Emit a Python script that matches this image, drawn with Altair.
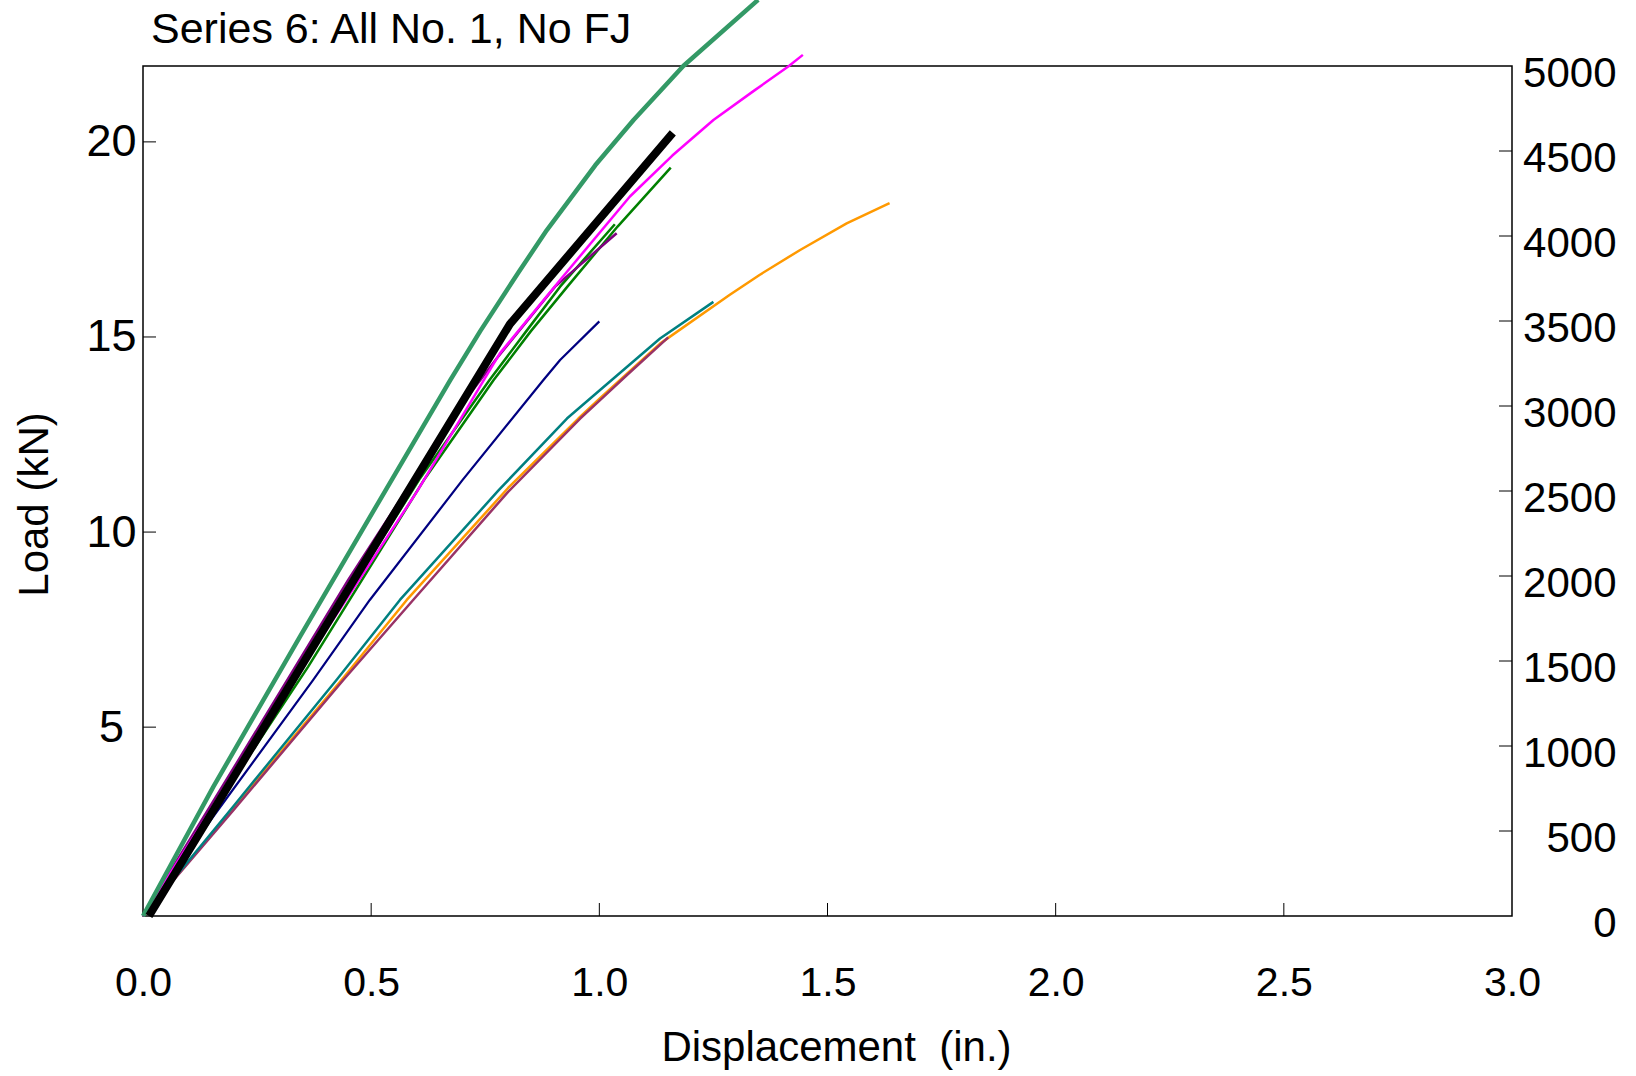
import altair as alt
import pandas as pd

# ---------------- data ----------------
title_text = ["Series 6: All No. 1, No FJ"]
x_ticks = [0.0, 0.5, 1.0, 1.5, 2.0, 2.5, 3.0]
x_minor_ticks = [0.5, 1.0, 1.5, 2.0, 2.5]
kn_ticks = [5, 10, 15, 20]
lb_ticks = [0, 500, 1000, 1500, 2000, 2500, 3000, 3500, 4000, 4500, 5000]
lb_tick_marks = [500, 1000, 1500, 2000, 2500, 3000, 3500, 4000, 4500]

# displacement (in.) / load (kN)
orange_x = [0.0, 0.20, 0.435, 0.578, 0.80, 0.954, 1.0016, 1.133, 1.286, 1.351, 1.440, 1.542, 1.636]
orange_y = [0.16, 2.95, 6.21, 8.26, 11.13, 12.91, 13.43, 14.83, 16.08, 16.59, 17.23, 17.91, 18.43]

mauve_x = [0.0, 0.20, 0.439, 0.592, 0.80, 0.958, 1.0016, 1.060, 1.151]
mauve_y = [0.16, 2.90, 6.21, 8.26, 11.03, 12.91, 13.38, 14.02, 14.99]

teal_x = [0.0, 0.20, 0.424, 0.563, 0.78, 0.929, 1.0016, 1.133, 1.250]
teal_y = [0.16, 3.00, 6.21, 8.26, 11.08, 12.91, 13.64, 14.96, 15.90]

navy_x = [0.0, 0.154, 0.373, 0.497, 0.70, 0.877, 0.914, 1.000]
navy_y = [0.16, 2.71, 6.21, 8.26, 11.33, 13.89, 14.41, 15.40]

greenA_x = [0.0, 0.362, 0.616, 0.768, 0.850, 0.930, 1.040, 1.1565]
greenA_y = [0.16, 6.55, 11.34, 13.89, 15.15, 16.29, 17.83, 19.34]

greenB_x = [0.0, 0.350, 0.605, 0.759, 0.840, 0.914, 1.034]
greenB_y = [0.16, 6.58, 11.34, 13.89, 15.15, 16.29, 17.89]

purple_x = [0.0, 0.20, 0.45, 0.70, 0.775, 0.903, 1.038]
purple_y = [0.16, 3.98, 8.78, 13.29, 14.45, 16.29, 17.66]

magenta_x = [0.0, 0.20, 0.40, 0.60, 0.782, 0.914, 1.067, 1.160, 1.250, 1.340, 1.414, 1.446]
magenta_y = [0.16, 3.83, 7.46, 11.03, 14.58, 16.46, 18.60, 19.65, 20.56, 21.32, 21.93, 22.23]

seagreen_x = [0.0, 0.154, 0.344, 0.520, 0.673, 0.739, 0.823, 0.885, 0.991, 1.075, 1.184, 1.348]
seagreen_y = [0.16, 3.47, 7.32, 10.84, 13.89, 15.15, 16.66, 17.74, 19.40, 20.56, 21.945, 23.64]

black_x = [0.013, 0.804, 1.161]
black_y = [0.16, 15.33, 20.23]

# ---------------- layout / style ----------------
W, H = 1369, 850
FONT = "Liberation Sans"

xs = alt.Scale(domain=[0, 3], nice=False, zero=False)
ys = alt.Scale(domain=[0.16, 21.945], nice=False, zero=False)
lbs = alt.Scale(domain=[0, 5000], nice=False, zero=False)

x_axis = alt.Axis(
    values=x_ticks,
    format=".1f",
    labelFontSize=41,
    labelFont=FONT,
    labelColor="black",
    labelPadding=47,
    labelFlush=False,
    labelOverlap=False,
    ticks=False,
    tickSize=0,
    domain=False,
    grid=False,
    title="Displacement \u00a0(in.)",
    titleFont=FONT,
    titleFontSize=42,
    titleFontWeight="normal",
    titleColor="black",
    titleX=693,
    titleY=131,
    titleAlign="center",
    titleBaseline="middle",
)

y_axis = alt.Axis(
    values=kn_ticks,
    labelFontSize=45,
    labelFont=FONT,
    labelColor="black",
    labelPadding=32,
    labelAlign="center",
    labelOverlap=False,
    ticks=False,
    tickSize=0,
    domain=False,
    grid=False,
    title="Load (kN)",
    titleFont=FONT,
    titleFontSize=42,
    titleFontWeight="normal",
    titleColor="black",
    titleAngle=270,
    titleX=-109,
    titleY=438,
    titleAlign="center",
    titleBaseline="middle",
)

series = [
    (orange_x, orange_y, "#FF9900", 2.5),
    (mauve_x, mauve_y, "#993366", 2.5),
    (teal_x, teal_y, "#008080", 2.5),
    (navy_x, navy_y, "#000080", 2.2),
    (greenA_x, greenA_y, "#008000", 2.5),
    (greenB_x, greenB_y, "#008000", 2.5),
    (purple_x, purple_y, "#800080", 2.5),
    (magenta_x, magenta_y, "#FF00FF", 2.5),
    (seagreen_x, seagreen_y, "#339966", 4.5),
    (black_x, black_y, "#000000", 8),
]


def line_layer(xv, yv, color, width):
    df = pd.DataFrame({"x": xv, "y": yv, "i": list(range(len(xv)))})
    return alt.Chart(df).mark_line(
        color=color, strokeWidth=width, strokeCap="butt", strokeJoin="round"
    ).encode(
        x=alt.X("x:Q", scale=xs, axis=x_axis),
        y=alt.Y("y:Q", scale=ys, axis=y_axis),
        order="i:Q",
    )


line_layers = [line_layer(*s) for s in series]

bottom_ticks = alt.Chart(pd.DataFrame({"x": x_minor_ticks})).mark_rule(
    color="black", strokeWidth=1
).encode(
    x=alt.X("x:Q", scale=xs, axis=x_axis),
    y=alt.value(H - 13),
    y2=alt.value(H),
)

left_ticks = alt.Chart(pd.DataFrame({"y": kn_ticks})).mark_rule(
    color="black", strokeWidth=1
).encode(
    y=alt.Y("y:Q", scale=ys, axis=y_axis),
    x=alt.value(0),
    x2=alt.value(13),
)

title_layer = alt.Chart(pd.DataFrame({"t": title_text})).mark_text(
    align="left",
    baseline="alphabetic",
    fontSize=43,
    font=FONT,
    color="black",
).encode(
    text="t:N",
    x=alt.value(8),
    y=alt.value(-23),
)

inner = alt.layer(*line_layers, bottom_ticks, left_ticks, title_layer)

right_ticks = alt.Chart(pd.DataFrame({"v": lb_tick_marks})).mark_rule(
    color="black", strokeWidth=1
).encode(
    y=alt.Y(
        "v:Q",
        scale=lbs,
        axis=alt.Axis(
            orient="right",
            values=lb_ticks,
            format="d",
            labelFontSize=42,
            labelFont=FONT,
            labelColor="black",
            labelPadding=104,
            labelAlign="right",
            labelOffset=7,
            labelOverlap=False,
            ticks=False,
            tickSize=0,
            domain=False,
            grid=False,
            title="",
        ),
    ),
    x=alt.value(W - 13),
    x2=alt.value(W),
)

chart = (
    alt.layer(inner, right_ticks)
    .resolve_scale(y="independent")
    .properties(
        width=W,
        height=H,
        autosize=alt.AutoSizeParams(type="none"),
        padding={"left": 143, "top": 66, "right": 124, "bottom": 160},
    )
    .configure(font=FONT)
    .configure_view(stroke="black", strokeWidth=1.5)
)

chart.save("out.html", embed_options={"renderer": "svg", "actions": False})
